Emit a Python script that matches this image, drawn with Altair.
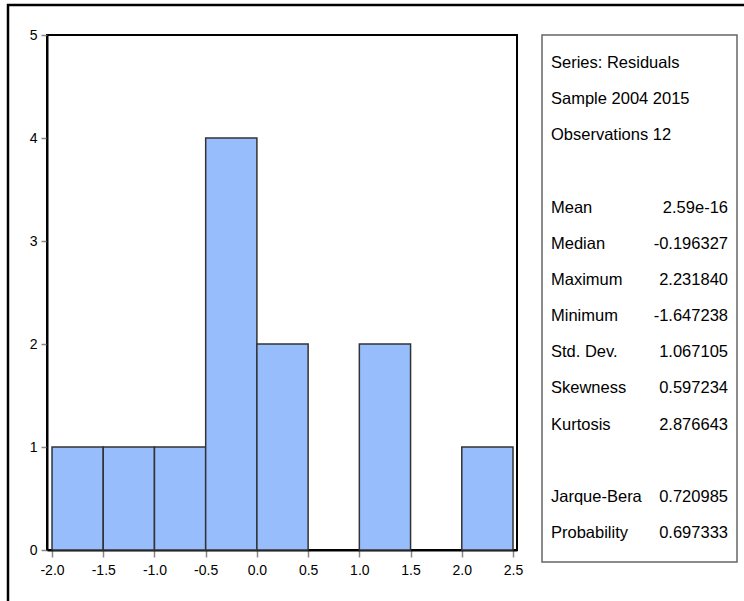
import altair as alt
import pandas as pd

# Histogram data
bin_start = [-2.0, -1.5, -1.0, -0.5, 0.0, 0.5, 1.0, 1.5, 2.0]
bin_end = [-1.5, -1.0, -0.5, 0.0, 0.5, 1.0, 1.5, 2.0, 2.5]
counts = [1, 1, 1, 4, 2, 0, 2, 0, 1]
x_ticks = [-2.0, -1.5, -1.0, -0.5, 0.0, 0.5, 1.0, 1.5, 2.0, 2.5]
y_ticks = [0, 1, 2, 3, 4, 5]

# Statistics panel
stat_labels = ["Series: Residuals", "Sample 2004 2015", "Observations 12",
               "Mean", "Median", "Maximum", "Minimum", "Std. Dev.",
               "Skewness", "Kurtosis", "Jarque-Bera", "Probability"]
stat_values = ["", "", "",
               "2.59e-16", "-0.196327", "2.231840", "-1.647238", "1.067105",
               "0.597234", "2.876643", "0.720985", "0.697333"]
stat_rows = [0, 1, 2, 4, 5, 6, 7, 8, 9, 10, 12, 13]

FONT = "Liberation Sans Narrow, Arial Narrow, Liberation Sans, Arial, sans-serif"
W, H = 470, 515

hist = pd.DataFrame({"start": bin_start, "end": bin_end, "count": counts})
hist = hist[hist["count"] > 0]
stats = pd.DataFrame({"label": stat_labels, "value": stat_values, "row": stat_rows})
one = pd.DataFrame({"a": [0]})

xscale = alt.Scale(domain=[-2.049, 2.539], nice=False, zero=False)
yscale = alt.Scale(domain=[0, 5], nice=False)

bars = alt.Chart(hist).mark_rect(
    fill="#97bdfc", stroke="#333333", strokeWidth=1.5
).encode(
    x=alt.X("start:Q", scale=xscale, title=None,
            axis=alt.Axis(values=x_ticks,
                          labelExpr="replace(format(datum.value, '.1f'), '\u2212', '-')",
                          grid=False, domainColor="black", domainWidth=2,
                          tickColor="#888888", tickSize=7, tickWidth=1.5,
                          labelFontSize=14, labelColor="black", labelPadding=6,
                          labelFont=FONT)),
    x2="end:Q",
    y=alt.Y("count:Q", scale=yscale, title=None,
            axis=alt.Axis(values=y_ticks, format="d", grid=False,
                          domainColor="black", domainWidth=2,
                          tickColor="#888888", tickSize=6, tickWidth=1.5,
                          labelFontSize=14, labelColor="black", labelPadding=4,
                          labelFont=FONT)),
    y2=alt.datum(0),
)

outer = alt.Chart(one).mark_rect(
    fill=None, stroke="black", strokeWidth=2.5
).encode(
    x=alt.value(-39), x2=alt.value(710), y=alt.value(-30), y2=alt.value(590)
)

box = alt.Chart(one).mark_rect(
    fill="white", stroke="#666666", strokeWidth=1.5
).encode(
    x=alt.value(495), x2=alt.value(690), y=alt.value(0), y2=alt.value(527)
)

rowscale = alt.Scale(domain=[0, 13], range=[28, 498])

labels = alt.Chart(stats).mark_text(
    align="left", baseline="middle", fontSize=16.5, font=FONT, color="black"
).encode(
    x=alt.value(504),
    y=alt.Y("row:Q", scale=rowscale, axis=None),
    text="label:N",
)

values = alt.Chart(stats).mark_text(
    align="right", baseline="middle", fontSize=16.5, font=FONT, color="black"
).encode(
    x=alt.value(681),
    y=alt.Y("row:Q", scale=rowscale, axis=None),
    text="value:N",
)

chart = alt.layer(outer, box, bars, labels, values).resolve_scale(
    y="independent"
).properties(
    width=W, height=H,
    autosize=alt.AutoSizeParams(type="none"),
    padding={"left": 47, "top": 35, "right": 227, "bottom": 51},
    background="white",
).configure(
    font=FONT
).configure_view(
    stroke="black", strokeWidth=2
)

chart.save("out.html", embed_options={"renderer": "svg", "actions": False})
